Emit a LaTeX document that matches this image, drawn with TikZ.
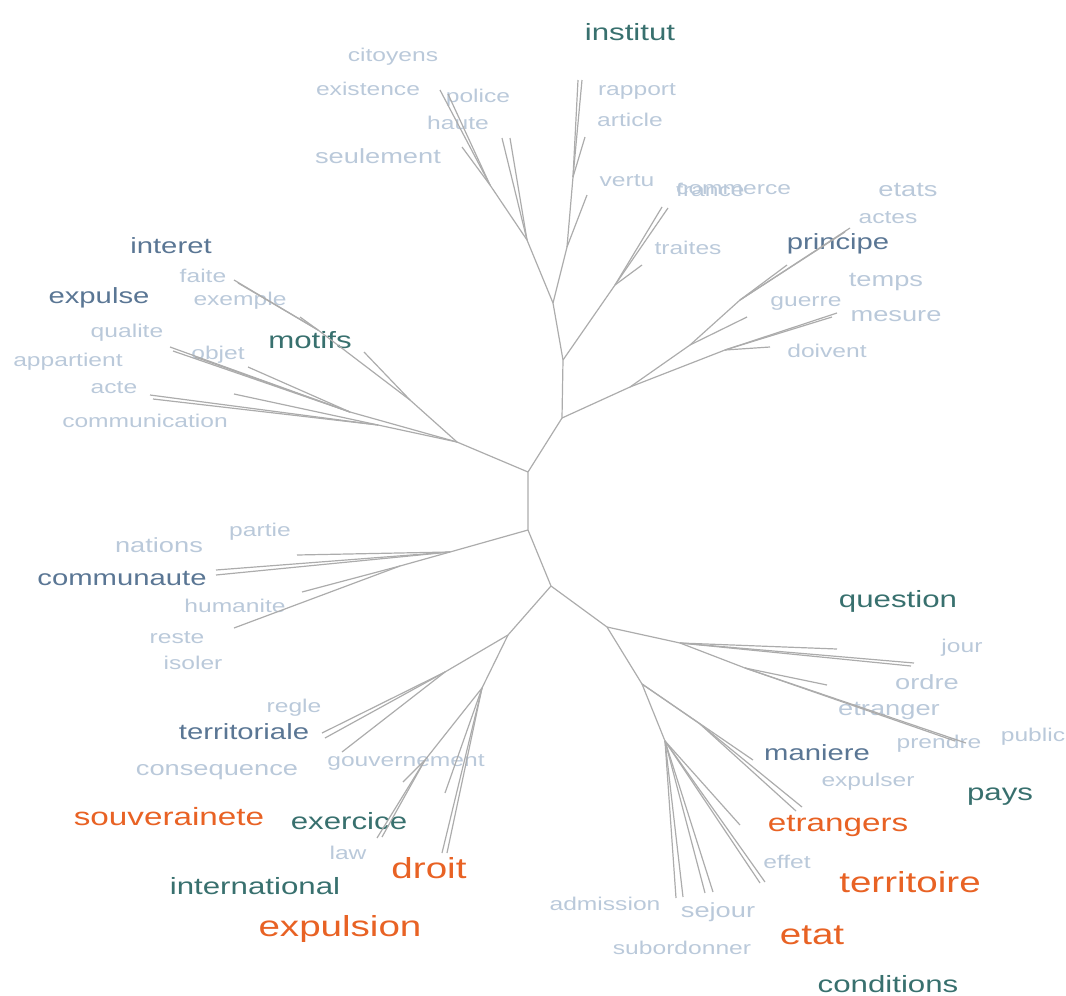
\documentclass[tikz,border=0pt]{standalone}
\usepackage{fontspec}
\setmainfont{Liberation Sans}[FakeStretch=1.33]
\usetikzlibrary{positioning}
\definecolor{faintblue}{RGB}{186,201,218}
\definecolor{slateblue}{RGB}{90,118,148}
\definecolor{deepteal}{RGB}{56,112,110}
\definecolor{burnt}{RGB}{232,98,36}
\definecolor{twiggray}{RGB}{172,172,172}
\tikzset{
	faint/.style={
		text=faintblue,
		font=\fontsize{18.5}{20}\selectfont,
		inner sep=0pt,
	},
	faintbig/.style={
		faint,
		font=\fontsize{20.5}{22}\selectfont,
	},
	slate/.style={
		text=slateblue,
		font=\fontsize{22}{24}\selectfont,
		inner sep=0pt,
	},
	sea/.style={
		text=deepteal,
		font=\fontsize{23.5}{25}\selectfont,
		inner sep=0pt,
	},
	hot/.style={
		text=burnt,
		font=\fontsize{25}{27}\selectfont,
		inner sep=0pt,
	},
	hotbig/.style={
		hot,
		font=\fontsize{29}{31}\selectfont,
	},
	twig/.style={
		draw=twiggray,
		line width=1.2pt,
	},
}
% leaves of one fork: named fork-1, fork-2, ...
\newcommand{\twigs}[2]{%
	\foreach \tx/\ty [count=\ti] in {#2} {
		\coordinate (#1-\ti) at (\tx,\ty);
		\draw[twig] (#1) -- (#1-\ti);
	}}

\begin{document}
\begin{tikzpicture}[x=1pt,y=-1pt]
		\useasboundingbox (0,0) rectangle (1066,996);
		
		% words, top
		\node [sea] (institut) at (630,32) {institut};
		\node [faint] (citoyens) at (393,57) {citoyens};
		\node [faint] (existence) at (368,89) {existence};
		\node [faint] (police) at (478,98) {police};
		\node [faint] (haute) at (458,123) {haute};
		\node [faint] (rapport) at (637,91) {rapport};
		\node [faint] (article) at (630,120) {article};
		\node [faintbig] (seulement) at (378,156) {seulement};
		\node [faint] (vertu) at (627,181) {vertu};
		\node [faint,anchor=west] (france) at (676,190) {france};
		\node [faint,anchor=west] (commerce) at (676,190) {commerce};
		\node [faint] (traites) at (688,248) {traites};
		\node [faintbig] (etats) at (908,190) {etats};
		\node [faint] (actes) at (888,218) {actes};
		\node [slate] (principe) at (838,244) {principe};
		\node [faintbig] (temps) at (886,282) {temps};
		\node [faint] (guerre) at (806,303) {guerre};
		\node [faintbig] (mesure) at (896,316) {mesure};
		\node [faint] (doivent) at (827,351) {doivent};
		
		% words, left
		\node [slate] (interet) at (171,246) {interet};
		\node [faint] (faite) at (203,276) {faite};
		\node [slate] (expulse) at (99,298) {expulse};
		\node [faint] (exemple) at (240,301) {exemple};
		\node [sea] (motifs) at (310,340) {motifs};
		\node [faint] (qualite) at (127,333) {qualite};
		\node [faint] (objet) at (218,355) {objet};
		\node [faint] (appartient) at (68,362) {appartient};
		\node [faint] (acte) at (114,388) {acte};
		\node [faint] (communication) at (145,421) {communication};
		\node [faint] (partie) at (260,532) {partie};
		\node [faintbig] (nations) at (159,545) {nations};
		\node [slate] (communaute) at (122,578) {communaute};
		\node [faint] (humanite) at (235,606) {humanite};
		\node [faint] (reste) at (177,638) {reste};
		\node [faint] (isoler) at (193,663) {isoler};
		
		% words, bottom left
		\node [faint] (regle) at (294,708) {regle};
		\node [slate] (territoriale) at (244,732) {territoriale};
		\node [faintbig] (consequence) at (217,772) {consequence};
		\node [faint] (gouvernement) at (406,762) {gouvernement};
		\node [hot] (souverainete) at (169,817) {souverainete};
		\node [sea] (exercice) at (349,821) {exercice};
		\node [faint] (law) at (348,853) {law};
		\node [hotbig] (droit) at (429,868) {droit};
		\node [sea] (international) at (255,886) {international};
		\node [hotbig] (expulsion) at (340,929) {expulsion};
		
		% words, bottom right
		\node [sea] (question) at (898,601) {question};
		\node [faint] (jour) at (962,648) {jour};
		\node [faintbig] (ordre) at (927,682) {ordre};
		\node [faintbig] (etranger) at (889,711) {etranger};
		\node [faint] (prendre) at (939,744) {prendre};
		\node [faint] (public) at (1033,737) {public};
		\node [slate] (maniere) at (817,753) {maniere};
		\node [faint] (expulser) at (868,782) {expulser};
		\node [sea] (pays) at (1000,797) {pays};
		\node [hot] (etrangers) at (838,826) {etrangers};
		\node [faint] (effet) at (787,862) {effet};
		\node [hotbig] (territoire) at (910,882) {territoire};
		\node [faint] (admission) at (605,904) {admission};
		\node [faintbig] (sejour) at (718,912) {sejour};
		\node [faint] (subordonner) at (682,948) {subordonner};
		\node [hotbig] (etat) at (812,935) {etat};
		\node [sea] (conditions) at (888,984) {conditions};
		
		% forks of the tree
		\coordinate (A) at (528,472);
		\coordinate (E) at (528,530);
		\coordinate (B) at (562,418);
		\coordinate (C) at (563,360);
		\coordinate (D) at (553,303);
		\coordinate (F) at (551,586);
		\coordinate (G) at (607,627);
		\coordinate (H) at (508,635);
		\coordinate (T1) at (527,240);
		\coordinate (T2) at (490,185);
		\coordinate (T3) at (567,247);
		\coordinate (T4) at (573,177);
		\coordinate (P1) at (615,285);
		\coordinate (J1) at (630,387);
		\coordinate (J2) at (690,345);
		\coordinate (J3) at (740,300);
		\coordinate (J4) at (725,350);
		\coordinate (N) at (457,442);
		\coordinate (M1) at (410,400);
		\coordinate (M2) at (378,425);
		\coordinate (M3) at (318,330);
		\coordinate (M4) at (350,412);
		\coordinate (K) at (450,552);
		\coordinate (K2) at (400,566);
		\coordinate (H2) at (445,672);
		\coordinate (I) at (482,688);
		\coordinate (I2) at (425,760);
		\coordinate (Q1) at (680,643);
		\coordinate (Q2) at (745,668);
		\coordinate (L) at (642,684);
		\coordinate (L2) at (700,724);
		\coordinate (R) at (665,741);
		
		\draw [twig] (D) -- (C) -- (B) -- (A) -- (E) -- (F) -- (G) -- (L) -- (R);
		\draw [twig] (D) -- (T1) -- (T2);
		\draw [twig] (D) -- (T3) -- (T4);
		\draw [twig] (C) -- (P1);
		\draw [twig] (B) -- (J1) -- (J2) -- (J3);
		\draw [twig] (J1) -- (J4);
		\draw [twig] (A) -- (N) -- (M1) -- (M3);
		\draw [twig] (N) -- (M4);
		\draw [twig] (N) -- (M2);
		\draw [twig] (E) -- (K) -- (K2);
		\draw [twig] (F) -- (H) -- (H2);
		\draw [twig] (H) -- (I) -- (I2);
		\draw [twig] (G) -- (Q1) -- (Q2);
		\draw [twig] (L) -- (L2);
		
		\twigs{T1}{502/138, 510/138}
		\twigs{T2}{462/147, 440/90, 448/94}
		\twigs{T3}{587/195}
		\twigs{T4}{578/80, 582/80, 585/137}
		\twigs{P1}{668/208, 662/207, 642/265}
		\twigs{J2}{747/317}
		\twigs{J3}{787/265, 850/228, 845/232}
		\twigs{J4}{837/313, 832/317, 770/347}
		\twigs{M1}{364/352}
		\twigs{M3}{234/280, 238/283, 300/317}
		\twigs{M4}{170/347, 173/351, 195/357, 248/367}
		\twigs{M2}{150/395, 153/399, 234/394}
		\twigs{K}{216/570, 216/575, 297/555}
		\twigs{K2}{234/628, 302/592}
		\twigs{H2}{322/733, 325/738, 342/752}
		\twigs{I}{442/853, 447/853, 445/793}
		\twigs{I2}{377/838, 382/837, 403/782}
		\twigs{Q1}{837/649, 914/663, 911/666}
		\twigs{Q2}{827/685, 966/743, 955/741}
		\twigs{L}{753/760}
		\twigs{L2}{802/807, 796/811}
		\twigs{R}{740/825, 765/882, 760/883, 713/892, 705/893, 676/898, 683/897}
	\end{tikzpicture}
\end{document}
